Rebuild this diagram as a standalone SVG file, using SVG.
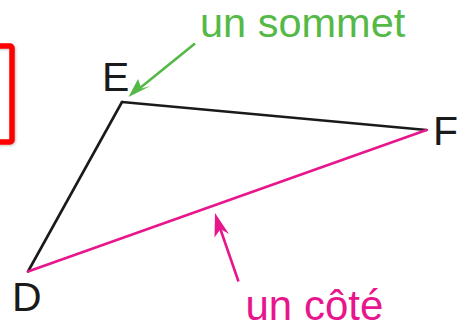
<svg xmlns="http://www.w3.org/2000/svg" width="469" height="329" viewBox="0 0 469 329">
<defs>
<style>
.lbl{font-family:"Liberation Sans",Arial,sans-serif;font-size:41px;fill:#1a1a1a}
.edge{stroke:#1a1a1a;stroke-width:2.6;fill:none;stroke-linecap:round}
.side{stroke:#e8168c;stroke-width:2.6;fill:none;stroke-linecap:round}
.ann{font-family:"Liberation Sans",Arial,sans-serif}
</style>
<filter id="sh" x="-50%" y="-20%" width="200%" height="140%">
<feDropShadow dx="1" dy="1" stdDeviation="1" flood-color="#000" flood-opacity="0.25"/>
</filter>
</defs>
<rect x="-20" y="46" width="32" height="96" rx="2" fill="none" stroke="#ff0000" stroke-width="5.5" filter="url(#sh)"/>
<g id="connectors">
<line class="edge" x1="122" y1="102" x2="426.5" y2="130"/>
<line class="edge" x1="122" y1="102" x2="28" y2="271.5"/>
<line class="side" x1="28" y1="271.5" x2="426.5" y2="130"/>
<path d="M195,43.5 L140,88" stroke="#55b947" stroke-width="2.6" fill="none"/>
<path d="M128.5,97 L138,79 L141.5,88.5 L150.5,86 Z" fill="#55b947"/>
<path d="M238.5,281.5 L220,228" stroke="#e8168c" stroke-width="2.6" fill="none"/>
<path d="M215,213 L229,234 L220.5,229 L214.5,237.5 Z" fill="#e8168c"/>
</g>
<g id="nodeE"><text class="lbl" x="102" y="91">E</text></g>
<g id="nodeF"><text class="lbl" x="433" y="145">F</text></g>
<g id="nodeD"><text class="lbl" x="12" y="310.5">D</text></g>
<g id="sommet"><text class="ann" x="200" y="37.3" font-size="41.5" fill="#55b947">un sommet</text></g>
<g id="cote"><text class="ann" x="245.5" y="320" font-size="42" fill="#e8168c">un côté</text></g>
</svg>
